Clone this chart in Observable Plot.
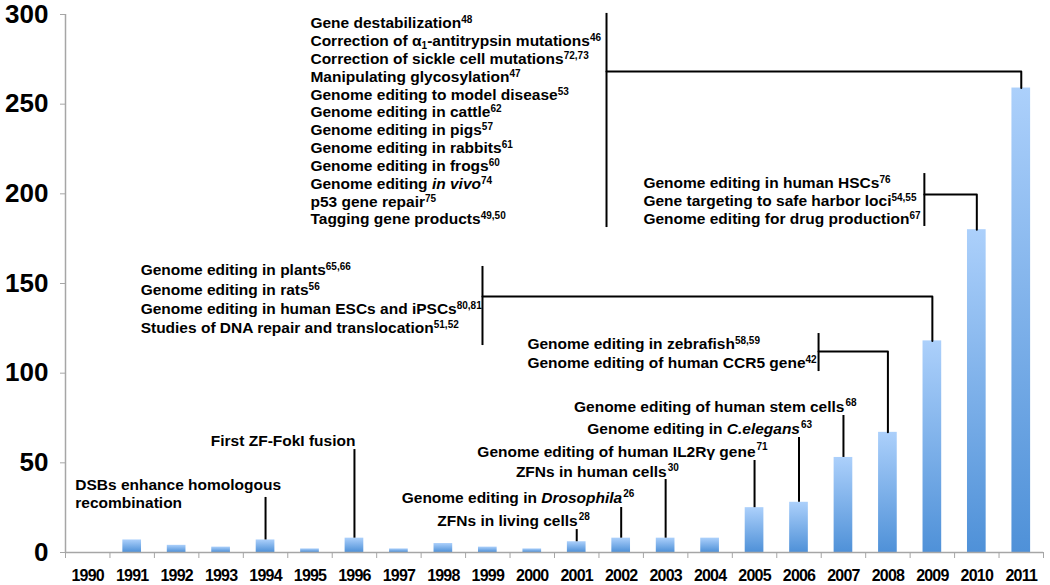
<!DOCTYPE html>
<html><head><meta charset="utf-8">
<script src="https://cdn.jsdelivr.net/npm/d3@7"></script>
<script src="https://cdn.jsdelivr.net/npm/@observablehq/plot@0.6"></script>
<style>html,body{margin:0;padding:0;background:#fff;overflow:hidden}</style>
</head><body><div id="chart"></div><script>
// ---- data ----
const years = [1990,1991,1992,1993,1994,1995,1996,1997,1998,1999,2000,2001,2002,2003,2004,2005,2006,2007,2008,2009,2010,2011];
const counts = [0,7,4,3,7,2,8,2,5,3,2,6,8,8,8,25,28,53,67,118,180,259];
const yTicks = [0,50,100,150,200,250,300];

const dsbLabel = "DSBs enhance homologous\nrecombination";
const dsbYear = 1994;

const singleLabels = ["First ZF-FokI fusion","ZFNs in living cells","Genome editing in *Drosophila*","ZFNs in human cells","Genome editing of human IL2Rγ gene","Genome editing in *C.elegans*","Genome editing of human stem cells"];
const singleYears = [1996,2001,2002,2003,2005,2006,2007];
const singleRefs = ["","28","26","30","71","63","68"];

const topLabels = ["Gene destabilization","Correction of α_1-antitrypsin mutations","Correction of sickle cell mutations","Manipulating glycosylation","Genome editing to model disease","Genome editing in cattle","Genome editing in pigs","Genome editing in rabbits","Genome editing in frogs","Genome editing *in vivo*","p53 gene repair","Tagging gene products"];
const topRefs = ["48","46","72,73","47","53","62","57","61","60","74","75","49,50"];
const topYear = 2011;

const hscLabels = ["Genome editing in human HSCs","Gene targeting to safe harbor loci","Genome editing for drug production"];
const hscRefs = ["76","54,55","67"];
const hscYear = 2010;

const plantLabels = ["Genome editing in plants","Genome editing in rats","Genome editing in human ESCs and iPSCs","Studies of DNA repair and translocation"];
const plantRefs = ["65,66","56","80,81","51,52"];
const plantYear = 2009;

const zebraLabels = ["Genome editing in zebrafish","Genome editing of human CCR5 gene"];
const zebraRefs = ["58,59","42"];
const zebraYear = 2008;

// ---- layout (positions in data units) ----
const countOf = y => counts[years.indexOf(y)];
const bars = years.map((y, i) => ({year: y, count: counts[i]}));
const boundaries = d3.range(years.length + 1).map(i => years[0] - 0.5 + i);

const singleLayout = [[61.9,57.4],[17.3,12.8],[30.1,25.1],[44.6,40.7],[56.3,51.3],[68.6,64.1],[80.9,76.4]];
const singles = singleLabels.map((l, i) => ({label: l, year: singleYears[i], ref: singleRefs[i], ty: singleLayout[i][0], ly: singleLayout[i][1]}));
singles.push({label: null, year: dsbYear, ref: "", ty: null, ly: 30.7});

const groups = [
  {labels: topLabels, refs: topRefs, target: topYear, tx: 1995.01, ty: 295.0, step: 9.93, bx: 2001.67, by1: 300.6, by2: 181.2, cy: 268.2},
  {labels: hscLabels, refs: hscRefs, target: hscYear, tx: 2002.50, ty: 206.3, step: 10.3, bx: 2008.82, by1: 211.3, by2: 181.8, cy: 199.6},
  {labels: plantLabels, refs: plantRefs, target: plantYear, tx: 1991.19, ty: 157.3, step: 10.7, bx: 1998.88, by1: 159.5, by2: 115.4, cy: 142.8},
  {labels: zebraLabels, refs: zebraRefs, target: zebraYear, tx: 1999.89, ty: 116.5, step: 10.6, bx: 2006.44, by1: 122.1, by2: 100.9, cy: 112.1}
];
const groupLines = groups.flatMap((g, gi) => g.labels.map((l, i) => ({text: l + "^" + g.refs[i], x: g.tx, y: g.ty - i * g.step})));
const connectors = groups.flatMap((g, gi) => [
  {g: gi, x: g.bx, y: g.cy}, {g: gi, x: g.target, y: g.cy}, {g: gi, x: g.target, y: countOf(g.target)}
]);

const gray = "#a6a6a6";
const annFont = {fontSize: 15.5, fontWeight: "bold", fill: "black"};
const supSize = 10;

const svg = Plot.plot({
  width: 1050, height: 585,
  marginLeft: 65, marginRight: 7, marginTop: 14, marginBottom: 33,
  style: {fontFamily: "'Liberation Sans', Arial, sans-serif", background: "#fff", color: "black"},
  x: {type: "linear", domain: [1989.5, 2011.5]},
  y: {domain: [0, 300]},
  marks: [
    Plot.rectY(bars, {x1: d => d.year - 0.21, x2: d => d.year + 0.21, y: "count", fill: "url(#barGrad)"}),
    Plot.ruleY([0], {stroke: gray, strokeWidth: 1.5}),
    Plot.ruleX([years[0] - 0.5], {y1: 0, y2: 300, stroke: gray, strokeWidth: 1.5}),
    Plot.axisY({ticks: yTicks, tickSize: 5, tickPadding: 12, fontSize: 26, fontWeight: "bold", tickFormat: d => String(d), label: null, stroke: gray, fill: "black"}),
    Plot.axisX({ticks: years, tickSize: 0, tickPadding: 17, fontSize: 16, fontWeight: "bold", tickFormat: d => String(d), label: null, fill: "black"}),
    Plot.axisX({ticks: boundaries, tickSize: 6, tickFormat: () => "", label: null, stroke: gray}),
    // single annotations
    Plot.ruleX(singles, {x: "year", y1: "ly", y2: d => countOf(d.year), stroke: "black", strokeWidth: 2}),
    Plot.text(singles.filter(d => d.label), {x: "year", y: "ty", text: "label", textAnchor: "end", dx: 1, ...annFont}),
    Plot.text(singles.filter(d => d.ref), {x: "year", y: "ty", text: "ref", textAnchor: "start", dx: 2, dy: -4.5, fontSize: supSize, fontWeight: "bold", fill: "black"}),
    Plot.text([dsbLabel], {x: () => 1989.72, y: () => 32.9, text: d => d, textAnchor: "start", lineHeight: 1.17, ...annFont}),
    // grouped annotations
    Plot.ruleX(groups, {x: "bx", y1: "by1", y2: "by2", stroke: "black", strokeWidth: 2}),
    Plot.line(connectors, {x: "x", y: "y", z: "g", stroke: "black", strokeWidth: 2}),
    Plot.text(groupLines, {x: "x", y: "y", text: "text", textAnchor: "start", ...annFont})
  ]
});

// gradient for the bars
const defs = d3.select(svg).insert("defs", ":first-child");
const grad = defs.append("linearGradient").attr("id", "barGrad").attr("x1", 0).attr("y1", 0).attr("x2", 0).attr("y2", 1);
grad.append("stop").attr("offset", "0%").attr("stop-color", "#acd0fb");
grad.append("stop").attr("offset", "100%").attr("stop-color", "#4f91d8");

// slightly tighter year labels
d3.select(svg).selectAll('g[aria-label="x-axis tick label"] text').attr("letter-spacing", "-0.8px");

// rich text: *italic*, _subscript, ^superscript
function richify(root) {
  const NS = "http://www.w3.org/2000/svg";
  root.querySelectorAll("text").forEach(t => {
    if (t.querySelector("tspan")) return;
    const s = t.textContent;
    if (!/[\^*_]/.test(s)) return;
    const [main, sup] = s.split("^");
    t.textContent = "";
    let shift = 0;
    const add = (str, attrs) => {
      const ts = document.createElementNS(NS, "tspan");
      ts.textContent = str;
      for (const k in attrs) ts.setAttribute(k, attrs[k]);
      t.appendChild(ts);
    };
    for (const p of main.split(/(\*[^*]+\*|_.)/).filter(Boolean)) {
      const attrs = {};
      if (shift) { attrs.dy = -shift; shift = 0; }
      if (p[0] === "*") { attrs["font-style"] = "italic"; add(p.slice(1, -1), attrs); }
      else if (p[0] === "_") { attrs.dy = (attrs.dy || 0) + 3; attrs["font-size"] = supSize; add(p.slice(1), attrs); shift = 3; }
      else add(p, attrs);
    }
    if (sup) add(sup, {dy: -5 - shift, "font-size": supSize});
  });
}
richify(svg);

document.getElementById("chart").appendChild(svg);
</script></body></html>
